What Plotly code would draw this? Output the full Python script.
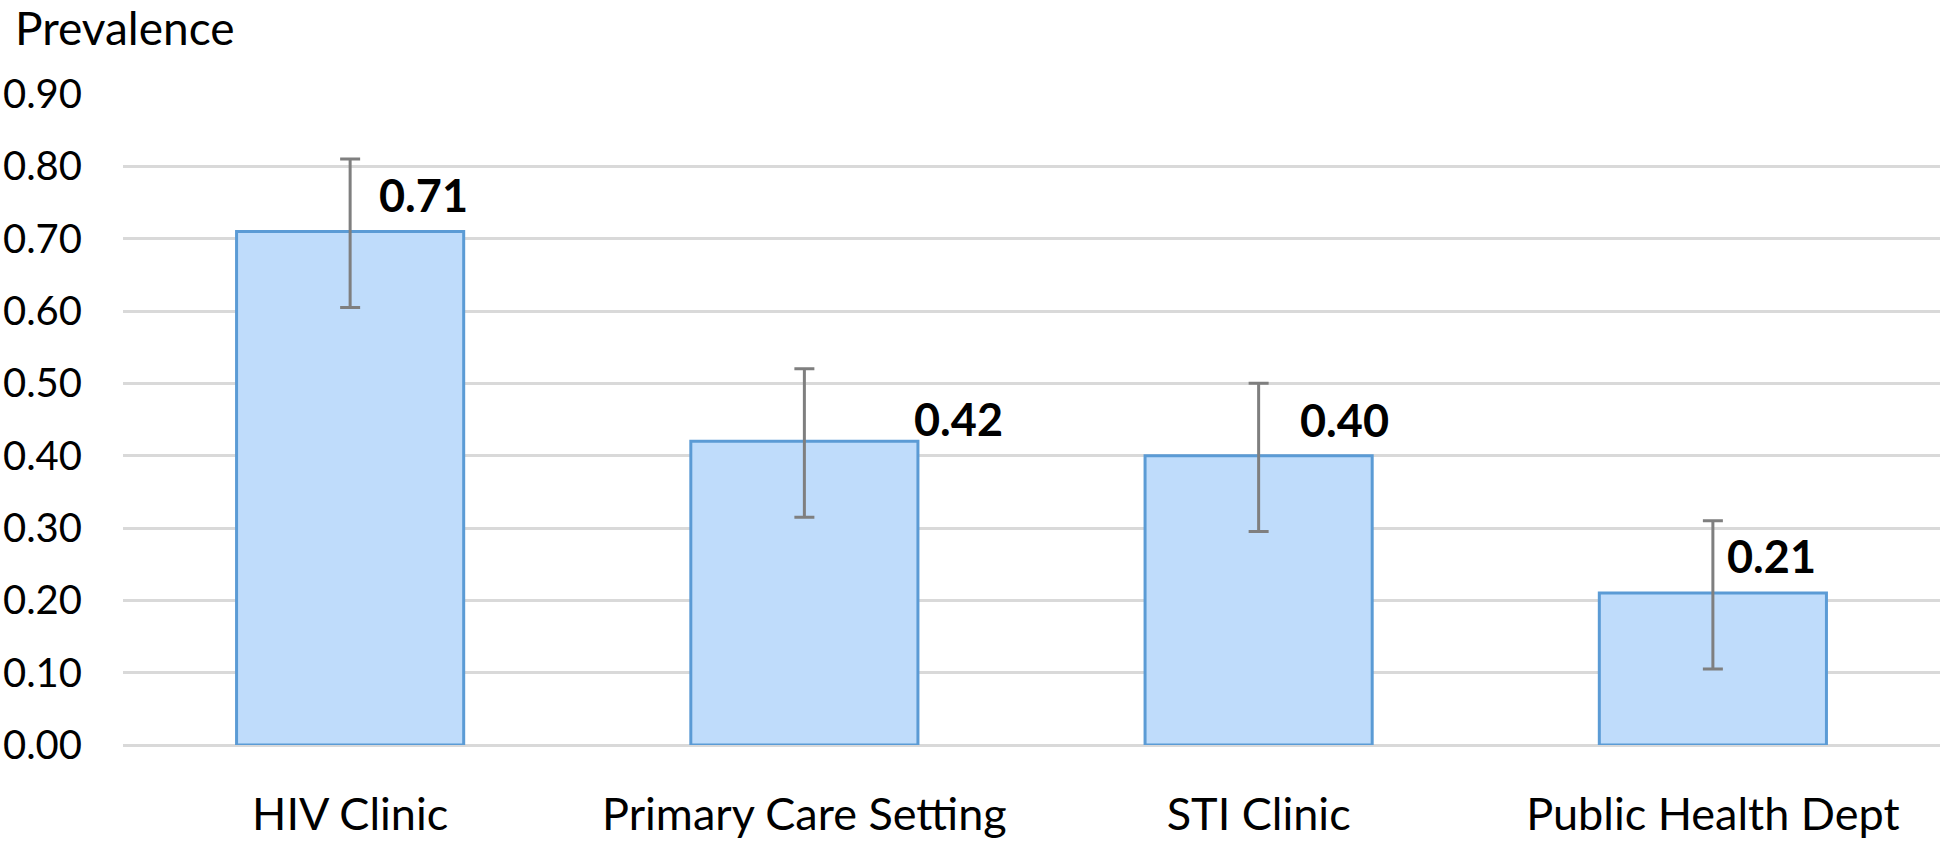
import plotly.graph_objects as go

categories = ["HIV Clinic", "Primary Care Setting", "STI Clinic", "Public Health Dept"]
prevalence = [0.71, 0.42, 0.40, 0.21]
err_plus = [0.10, 0.10, 0.10, 0.10]
err_minus = [0.105, 0.105, 0.105, 0.105]
value_labels = ["0.71", "0.42", "0.40", "0.21"]

# label offsets (pixels) - styling only
label_dx = [27, 108, 39, 12]
label_dy = [36, 22, 36, 37]

fig = go.Figure()
fig.add_trace(go.Bar(
    x=categories, y=prevalence,
    marker=dict(color="#BFDCFB", line=dict(color="#5B9BD5", width=3)),
    error_y=dict(type="data", symmetric=False, array=err_plus, arrayminus=err_minus,
                 color="#7F7F7F", thickness=3, width=10),
    showlegend=False, hoverinfo="skip",
))

for c, v, t, dx, dy in zip(categories, prevalence, value_labels, label_dx, label_dy):
    fig.add_annotation(x=c, y=v, text="<b>%s</b>" % t, showarrow=False,
                       xanchor="left", yanchor="middle", xshift=dx, yshift=dy,
                       font=dict(family="Lato", size=45, color="#000000"))

fig.add_annotation(xref="paper", yref="paper", x=0, y=1, xshift=-110, yshift=67,
                   xanchor="left", yanchor="middle", text="Prevalence", showarrow=False,
                   font=dict(family="Lato", size=46, color="#000000"))

fig.update_layout(
    width=1943, height=843,
    margin=dict(l=113, r=3, t=94, b=88),
    paper_bgcolor="white", plot_bgcolor="white",
    bargap=0.5,
    font=dict(family="Lato", color="#000000"),
    xaxis=dict(showline=False, showgrid=False, zeroline=False, ticks="",
               tickfont=dict(family="Lato", size=45, color="#000000"),
               ticklabelstandoff=39),
    yaxis=dict(range=[0, 0.9], dtick=0.1, tickformat=".2f", showgrid=True,
               gridcolor="#D9D9D9", gridwidth=3, zeroline=True, zerolinecolor="#D9D9D9",
               zerolinewidth=3, showline=False, ticks="",
               tickfont=dict(family="Lato", size=40, color="#000000"),
               ticklabelstandoff=40),
)

fig.write_html("out.html", config={"displayModeBar": False},
               post_script="document.body.style.margin='0';")
